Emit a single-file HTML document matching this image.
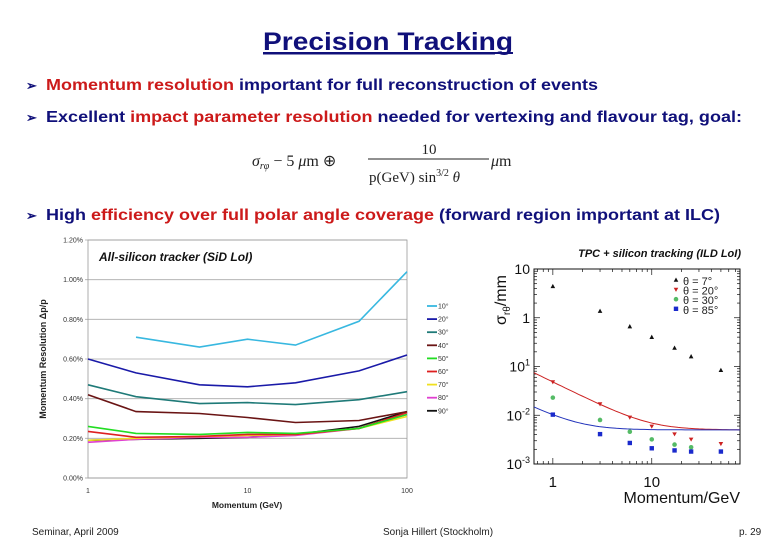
<!DOCTYPE html>
<html><head><meta charset="utf-8">
<style>
html,body{margin:0;padding:0;background:#fff;}
svg{display:block;font-family:"Liberation Sans",Arial,sans-serif;}
</style></head>
<body>
<svg id="page" width="780" height="540" viewBox="0 0 780 540" xmlns="http://www.w3.org/2000/svg">
  <text x="388" y="50" text-anchor="middle" font-size="25" font-weight="bold" fill="#10107a" text-decoration="underline" textLength="250" lengthAdjust="spacingAndGlyphs">Precision Tracking</text>
  <line x1="264" y1="53" x2="513" y2="53" stroke="#10107a" stroke-width="2"/>

  <g font-size="16" font-weight="bold">
    <text x="26" y="90" fill="#10107a" font-size="13">➢</text>
    <text x="46" y="90" textLength="552" lengthAdjust="spacingAndGlyphs"><tspan fill="#cc1a1a">Momentum resolution</tspan><tspan fill="#10107a"> important for full reconstruction of events</tspan></text>
  </g>
  <g font-size="16" font-weight="bold">
    <text x="26" y="122" fill="#10107a" font-size="13">➢</text>
    <text x="46" y="122" textLength="696" lengthAdjust="spacingAndGlyphs"><tspan fill="#10107a">Excellent </tspan><tspan fill="#cc1a1a">impact parameter resolution</tspan><tspan fill="#10107a"> needed for vertexing and flavour tag, goal:</tspan></text>
  </g>
  <g font-family="Liberation Serif,serif" fill="#222">
    <text x="252" y="166" font-size="16" font-style="italic">σ<tspan font-size="10" dy="3">rφ</tspan><tspan dy="-3" font-style="normal"> − 5 </tspan><tspan>μ</tspan><tspan font-style="normal">m ⊕</tspan></text>
    <text x="429" y="154" font-size="15" text-anchor="middle">10</text>
    <line x1="368" y1="159" x2="489" y2="159" stroke="#222" stroke-width="1"/>
    <text x="369" y="182" font-size="15">p(GeV) sin<tspan font-size="10" dy="-6">3/2</tspan><tspan dy="6" font-style="italic"> θ</tspan></text>
    <text x="491" y="166" font-size="16"><tspan font-style="italic">μ</tspan>m</text>
  </g>
  <g font-size="16" font-weight="bold">
    <text x="26" y="220" fill="#10107a" font-size="13">➢</text>
    <text x="46" y="220" textLength="674" lengthAdjust="spacingAndGlyphs"><tspan fill="#10107a">High </tspan><tspan fill="#cc1a1a">efficiency over full polar angle coverage</tspan><tspan fill="#10107a"> (forward region important at ILC)</tspan></text>
  </g>

  <g id="left-chart"></g>
  <g id="right-chart"></g>

  <g font-size="10" fill="#222">
    <text x="32" y="535">Seminar, April 2009</text>
    <text x="383" y="535">Sonja Hillert (Stockholm)</text>
    <text x="739" y="535">p. 29</text>
  </g>
</svg>
<script>
// ---------- Left chart data ----------
const leftMomenta = [1, 2, 5, 10, 20, 50, 100];
const leftSeriesNames = ["10°","20°","30°","40°","50°","60°","70°","80°","90°"];
const leftColors = ["#38b8e0","#1a1aa8","#1f7a78","#6a1414","#22dd22","#dd2020","#f0e020","#e040d0","#111111"];
const res10 = [null, 0.71, 0.66, 0.70, 0.67, 0.79, 1.04];
const res20 = [0.60, 0.53, 0.47, 0.46, 0.48, 0.54, 0.62];
const res30 = [0.47, 0.41, 0.375, 0.38, 0.37, 0.395, 0.435];
const res40 = [0.42, 0.335, 0.325, 0.305, 0.28, 0.29, 0.335];
const res50 = [0.26, 0.225, 0.22, 0.23, 0.225, 0.25, 0.32];
const res60 = [0.235, 0.205, 0.21, 0.22, 0.22, 0.25, 0.33];
const res70 = [0.19, 0.20, 0.21, 0.215, 0.22, 0.25, 0.31];
const res80 = [0.18, 0.195, 0.205, 0.205, 0.215, 0.25, 0.32];
const res90 = [0.19, 0.195, 0.20, 0.205, 0.22, 0.26, 0.335];
const leftYTicks = [0, 0.2, 0.4, 0.6, 0.8, 1.0, 1.2];
const leftYTickLabels = ["0.00%","0.20%","0.40%","0.60%","0.80%","1.00%","1.20%"];
const leftXTicks = [1, 10, 100];
const leftXTickLabels = ["1","10","100"];

// ---------- Right chart data ----------
const rightSeriesNames = ["θ =  7°","θ = 20°","θ = 30°","θ = 85°"];
const rightColors = ["#111111","#cc2222","#55bb66","#1a2acc"];
const p7 = [1, 3, 6, 10, 17, 25, 50];
const sig7 = [4.4, 1.37, 0.66, 0.40, 0.24, 0.16, 0.084];
const p20 = [1, 3, 6, 10, 17, 25, 50];
const sig20 = [0.048, 0.017, 0.009, 0.0059, 0.0041, 0.0032, 0.0026];
const p30 = [1, 3, 6, 10, 17, 25];
const sig30 = [0.023, 0.008, 0.0046, 0.0032, 0.0025, 0.0022];
const p85 = [1, 3, 6, 10, 17, 25, 50];
const sig85 = [0.0103, 0.0041, 0.0027, 0.0021, 0.0019, 0.0018, 0.0018];
const fitConst = [0.005, 0.005];   // red, blue fit constant term (mm)
const fitSlope = [0.048, 0.009];   // red, blue fit 1/p term (mm·GeV)
const rightYTicks = [-3, -2, -1, 0, 1];
const rightXTicks = [1, 10];
const rightXTickLabels = ["1","10"];

const NS = "http://www.w3.org/2000/svg";
function mk(parent, tag, attrs, text){
  const e = document.createElementNS(NS, tag);
  for (const k in attrs) e.setAttribute(k, attrs[k]);
  if (text !== undefined) e.textContent = text;
  parent.appendChild(e);
  return e;
}

// ===== Left chart =====
(function(){
  const g = document.getElementById('left-chart');
  const X0 = 88, X1 = 407, Y0 = 478, Y1 = 240;
  const xs = v => X0 + (Math.log10(v) - 0) / 2 * (X1 - X0);
  const ys = v => Y0 - v / 1.2 * (Y0 - Y1);
  leftYTicks.forEach((t, i) => {
    const gl = mk(g, 'line', {x1:X0-3, x2:X1, y1:ys(t), y2:ys(t), stroke: i===0?'#999':'#aaa', 'stroke-width':0.8});
    
    
    const tl = mk(g, 'text', {x:X0-5, y:ys(t)+2.5, 'text-anchor':'end', 'font-size':7, fill:'#333'}, leftYTickLabels[i]);
    
    
  });
  const frame = mk(g, 'rect', {x:X0, y:Y1, width:X1-X0, height:Y0-Y1, fill:'none', stroke:'#999', 'stroke-width':0.8});
  
  
  leftXTicks.forEach((t, i) => {
    const tl = mk(g, 'text', {x:xs(t), y:Y0+15, 'text-anchor':'middle', 'font-size':7, fill:'#333'}, leftXTickLabels[i]);
    
    
  });
  const xt = mk(g, 'text', {x:247, y:508, 'text-anchor':'middle', 'font-size':8.5, 'font-weight':'bold', fill:'#222'}, 'Momentum (GeV)');
  
  
  const yt = mk(g, 'text', {x:0, y:0, transform:'translate(46,359) rotate(-90)', 'text-anchor':'middle', 'font-size':9, 'font-weight':'bold', fill:'#222'}, 'Momentum Resolution  Δp/p');
  
  
  const ct = mk(g, 'text', {x:99, y:261, 'font-size':12, 'font-weight':'bold', 'font-style':'italic', fill:'#111'}, 'All-silicon tracker (SiD LoI)');
  
  
  const series = [res10,res20,res30,res40,res50,res60,res70,res80,res90];
  for (let s = series.length - 1; s >= 0; s--) {
    const vals = series[s];
    let d = '';
    vals.forEach((v, i) => { if (v === null) return; d += (d ? 'L' : 'M') + xs(leftMomenta[i]).toFixed(1) + ',' + ys(v).toFixed(1); });
    const p = mk(g, 'path', {d:d, fill:'none', stroke:leftColors[s], 'stroke-width':1.6});
    
    
  }
  leftSeriesNames.forEach((n, i) => {
    const y = 306 + i * 13.1;
    const ll = mk(g, 'line', {x1:427, x2:437, y1:y, y2:y, stroke:leftColors[i], 'stroke-width':1.8});
    
    
    const lt = mk(g, 'text', {x:438, y:y+2.5, 'font-size':7, fill:'#333'}, n);
    
    
  });
})();

// ===== Right chart =====
(function(){
  const g = document.getElementById('right-chart');
  const X0 = 534, X1 = 740, Y0 = 464, Y1 = 269;
  const LX0 = Math.log10(0.645), LX1 = Math.log10(78);
  const xs = v => X0 + (Math.log10(v) - LX0) / (LX1 - LX0) * (X1 - X0);
  const ys = v => Y0 - (Math.log10(v) + 3) / 4 * (Y0 - Y1);
  const frame = mk(g, 'rect', {x:X0, y:Y1, width:X1-X0, height:Y0-Y1, fill:'none', stroke:'#111', 'stroke-width':1});
  
  
  // minor/major ticks
  for (let dec = -3; dec < 1; dec++) {
    for (let m = 1; m <= 9; m++) {
      const v = m * Math.pow(10, dec);
      const len = m === 1 ? 6 : 3;
      mk(g, 'line', {x1:X0, x2:X0+len, y1:ys(v), y2:ys(v), stroke:'#111', 'stroke-width':0.7});
      mk(g, 'line', {x1:X1, x2:X1-len, y1:ys(v), y2:ys(v), stroke:'#111', 'stroke-width':0.7});
    }
  }
  for (let dec = -1; dec < 2; dec++) {
    for (let m = 1; m <= 9; m++) {
      const v = m * Math.pow(10, dec);
      if (v < 0.645 || v > 78) continue;
      const len = m === 1 ? 6 : 3;
      mk(g, 'line', {x1:xs(v), x2:xs(v), y1:Y0, y2:Y0-len, stroke:'#111', 'stroke-width':0.7});
      mk(g, 'line', {x1:xs(v), x2:xs(v), y1:Y1, y2:Y1+len, stroke:'#111', 'stroke-width':0.7});
    }
  }
  rightYTicks.forEach(t => {
    const y = ys(Math.pow(10, t));
    let tl;
    if (t === 1) tl = mk(g, 'text', {x:530, y:y+5, 'text-anchor':'end', 'font-size':14, fill:'#111'}, '10');
    else if (t === 0) tl = mk(g, 'text', {x:530, y:y+5, 'text-anchor':'end', 'font-size':14, fill:'#111'}, '1');
    else {
      tl = mk(g, 'text', {x:530, y:y+5, 'text-anchor':'end', 'font-size':14, fill:'#111'});
      const a = mk(tl, 'tspan', {}, '10');
      const b = mk(tl, 'tspan', {'font-size':9, dy:-6}, t === -1 ? '1' : String(t));
    }
    
    
  });
  rightXTicks.forEach((t, i) => {
    const tl = mk(g, 'text', {x:xs(t), y:487, 'text-anchor':'middle', 'font-size':15, fill:'#111'}, rightXTickLabels[i]);
    
    
  });
  const xt = mk(g, 'text', {x:740, y:503, 'text-anchor':'end', 'font-size':16, fill:'#111'}, 'Momentum/GeV');
  
  
  const yt = mk(g, 'text', {x:0, y:0, transform:'translate(506,300) rotate(-90)', 'text-anchor':'middle', 'font-size':16, fill:'#111'});
  mk(yt, 'tspan', {}, 'σ');
  mk(yt, 'tspan', {'font-size':10, dy:4}, 'rθ');
  mk(yt, 'tspan', {dy:-4}, '/mm');
  
  
  const ct = mk(g, 'text', {x:741, y:257, 'text-anchor':'end', 'font-size':11, 'font-weight':'bold', 'font-style':'italic', fill:'#111'}, 'TPC + silicon tracking (ILD LoI)');
  
  
  // fit curves
  const fitColors = ['#cc2222', '#2233bb'];
  fitConst.forEach((c, k) => {
    let d = '';
    for (let i = 0; i <= 60; i++) {
      const lp = LX0 + (LX1 - LX0) * i / 60;
      const p = Math.pow(10, lp);
      const s = Math.sqrt(c*c + Math.pow(fitSlope[k]/p, 2));
      d += (i ? 'L' : 'M') + xs(p).toFixed(1) + ',' + ys(s).toFixed(1);
    }
    const pa = mk(g, 'path', {d:d, fill:'none', stroke:fitColors[k], 'stroke-width':1});
    
    
  });
  function marker(type, x, y, color){
    let e;
    if (type === 0) e = mk(g, 'path', {d:`M${x},${y-2.5}L${x+2.3},${y+1.8}L${x-2.3},${y+1.8}Z`, fill:color});
    else if (type === 1) e = mk(g, 'path', {d:`M${x},${y+2.3}L${x+2.3},${y-1.8}L${x-2.3},${y-1.8}Z`, fill:color});
    else if (type === 2) e = mk(g, 'circle', {cx:x, cy:y, r:2.3, fill:color});
    else e = mk(g, 'rect', {x:x-2.2, y:y-2.2, width:4.4, height:4.4, fill:color});
    return e;
  }
  const ps = [p7, p20, p30, p85], ss = [sig7, sig20, sig30, sig85];
  ps.forEach((pp, k) => {
    pp.forEach((p, i) => {
      const m = marker(k, xs(p), ys(ss[k][i]), rightColors[k]);
      
      
    });
  });
  rightSeriesNames.forEach((n, k) => {
    const y = 283 + k * 9.6;
    const m = marker(k, 676, y - 3, rightColors[k]);
    
    
    const t = mk(g, 'text', {x:683, y:y+2, 'font-size':11, fill:'#222'}, n);
    
    
  });
})();
</script>
</body></html>
